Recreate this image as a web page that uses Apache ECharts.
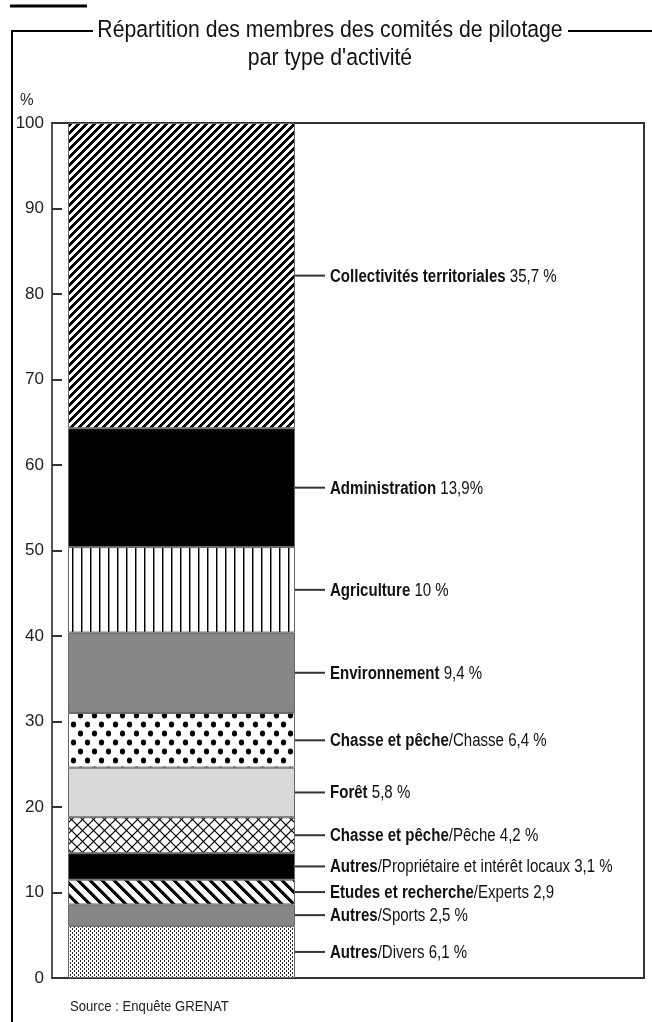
<!DOCTYPE html>
<html><head><meta charset="utf-8">
<script src="https://cdn.jsdelivr.net/npm/echarts@6/dist/echarts.min.js"></script>
<style>html,body{margin:0;padding:0;background:#fff}#c{width:652px;height:1022px}</style>
</head><body><div id="c"></div>
<script>
// ---- data (bottom to top) ----
const groups = ['Autres','Autres','Etudes et recherche','Autres','Chasse et pêche','Forêt','Chasse et pêche','Environnement','Agriculture','Administration','Collectivités territoriales'];
const subs = ['Divers','Sports','Experts','Propriétaire et intérêt locaux','Pêche','','Chasse','','','',''];
const values = [6.1,2.5,2.9,3.1,4.2,5.8,6.4,9.4,10,13.9,35.7];
const valueTexts = ['6,1 %','2,5 %','2,9','3,1 %','4,2 %','5,8 %','6,4 %','9,4 %','10 %','13,9%','35,7 %'];
const yMin = 0, yMax = 100, yStep = 10;
const titleLines = ['Répartition des membres des comités de pilotage', 'par type d\'activité'];
const unitText = '%';
const sourceText = 'Source : Enquête GRENAT';

const FONT = "'Liberation Sans',Arial,Helvetica,sans-serif";

// ---- patterns ----
function pix(w,h,fn){
  const c=document.createElement('canvas');c.width=w;c.height=h;const g=c.getContext('2d');
  const img=g.createImageData(w,h);
  for(let y=0;y<h;y++)for(let x=0;x<w;x++){const d=fn(x,y);const v=Math.round(255*(1-d));const o=(y*w+x)*4;img.data[o]=v;img.data[o+1]=v;img.data[o+2]=v;img.data[o+3]=255;}
  g.putImageData(img,0,0);return {image:c,repeat:'repeat'};
}
function pat(w,h,bg,draw){const c=document.createElement('canvas');c.width=w;c.height=h;const g=c.getContext('2d');g.fillStyle=bg;g.fillRect(0,0,w,h);draw(g,w,h);return {image:c,repeat:'repeat'};}
const mod=(a,n)=>((a%n)+n)%n;
const fills = [
  pix(4,4,(x,y)=>((x===0&&(y===0||y===1))||(x===2&&(y===2||y===3)))?0.85:0),                          // Divers
  '#878787',                                                                                          // Sports
  pix(12,12,(x,y)=>mod(x-y,12)<4?1:(mod(x-y,12)===4?0.4:0)),                                          // Experts
  '#000',                                                                                             // Propriétaire
  pat(11,11,'#fff',(g)=>{g.strokeStyle='#000';g.lineWidth=1.2;for(let k=-11;k<=11;k+=11){g.beginPath();g.moveTo(k,11);g.lineTo(k+11,0);g.stroke();g.beginPath();g.moveTo(k,0);g.lineTo(k+11,11);g.stroke();}}), // Pêche
  '#d9d9d9',                                                                                          // Forêt
  pat(14,18,'#fff',(g)=>{g.fillStyle='#000';g.beginPath();g.ellipse(3.5,4.5,2.6,3,0,0,Math.PI*2);g.fill();g.beginPath();g.ellipse(10.5,13.5,2.6,3,0,0,Math.PI*2);g.fill();}), // Chasse
  '#878787',                                                                                          // Environnement
  pix(9,2,(x,y)=>x===0?1:(x===1?0.45:0)),                                                             // Agriculture
  '#000',                                                                                             // Administration
  pix(8,8,(x,y)=>mod(x+y,8)<4?1:0)                                                                    // Collectivités
];

// cumulative midpoints for leader lines
const mids = [];
let acc = 0;
values.forEach(v => { mids.push(acc + v/2); acc += v; });

const series = values.map((v,i) => ({
  type:'bar', stack:'total', xAxisIndex:0, yAxisIndex:0, barWidth:'100%',
  name: groups[i] + (subs[i] ? '/' + subs[i] : ''),
  data:[v], silent:true,
  itemStyle:{color:fills[i], borderColor:'#666', borderWidth:1}
}));

series.push({
  type:'custom', xAxisIndex:0, yAxisIndex:0, silent:true, clip:false,
  data: mids.map((m,i)=>[0,m,i]),
  renderItem:(params, api) => {
    const i = api.value(2);
    const p = api.coord([api.value(0), api.value(1)]);
    const bw = api.size([1,0])[0];
    const x0 = p[0] + bw/2;
    const rest = (subs[i] ? '/' + subs[i] : '') + ' ' + valueTexts[i];
    return {type:'group', children:[
      {type:'line', shape:{x1:x0, y1:p[1], x2:x0+30, y2:p[1]}, style:{stroke:'#333', lineWidth:2}},
      {type:'text', x:x0+35, y:p[1]+1, scaleX:0.836, style:{
        text:'{b|' + groups[i] + '}{r|' + rest + '}',
        verticalAlign:'middle', align:'left',
        rich:{
          b:{fontFamily:FONT, fontWeight:'bold', fontSize:18, fill:'#111'},
          r:{fontFamily:FONT, fontWeight:'normal', fontSize:18, fill:'#111'}
        }
      }}
    ]};
  }
});

const chart = echarts.init(document.getElementById('c'), null, {renderer:'canvas'});
chart.setOption({
  animation:false,
  backgroundColor:'#fff',
  grid:[
    {left:68, right:357, top:123, bottom:44},
    {left:52, right:8, top:123, bottom:44, show:true, borderColor:'#333', borderWidth:2, backgroundColor:'transparent'}
  ],
  xAxis:[
    {type:'category', gridIndex:0, data:['total'], show:false},
    {type:'category', gridIndex:1, data:['total'], show:false}
  ],
  yAxis:[
    {type:'value', gridIndex:0, min:yMin, max:yMax, interval:yStep, offset:16,
     axisLine:{show:true, lineStyle:{color:'#555', width:2}},
     axisTick:{show:true, inside:true, length:10, lineStyle:{color:'#333', width:2}},
     axisLabel:{margin:8, fontFamily:FONT, fontSize:17, color:'#222'},
     splitLine:{show:false}},
    {type:'value', gridIndex:1, min:yMin, max:yMax, show:false, splitLine:{show:false}}
  ],
  graphic:[
    {type:'line', shape:{x1:10, y1:6, x2:87, y2:6}, style:{stroke:'#000', lineWidth:3}},
    {type:'line', shape:{x1:12, y1:31, x2:93, y2:31}, style:{stroke:'#000', lineWidth:2}},
    {type:'line', shape:{x1:568, y1:31, x2:652, y2:31}, style:{stroke:'#000', lineWidth:2}},
    {type:'line', shape:{x1:12, y1:30, x2:12, y2:1022}, style:{stroke:'#000', lineWidth:2}},
    {type:'text', x:330, y:30, scaleX:0.865, style:{text:titleLines[0], font:'24.5px ' + FONT, fill:'#111', align:'center', verticalAlign:'middle'}},
    {type:'text', x:330, y:58, scaleX:0.865, style:{text:titleLines[1], font:'24.5px ' + FONT, fill:'#111', align:'center', verticalAlign:'middle'}},
    {type:'text', x:20, y:100, scaleX:0.9, style:{text:unitText, font:'17px ' + FONT, fill:'#222', align:'left', verticalAlign:'middle'}},
    {type:'text', x:70, y:1007, scaleX:0.875, style:{text:sourceText, font:'15px ' + FONT, fill:'#222', align:'left', verticalAlign:'middle'}}
  ],
  series:series
});
</script>
</body></html>
